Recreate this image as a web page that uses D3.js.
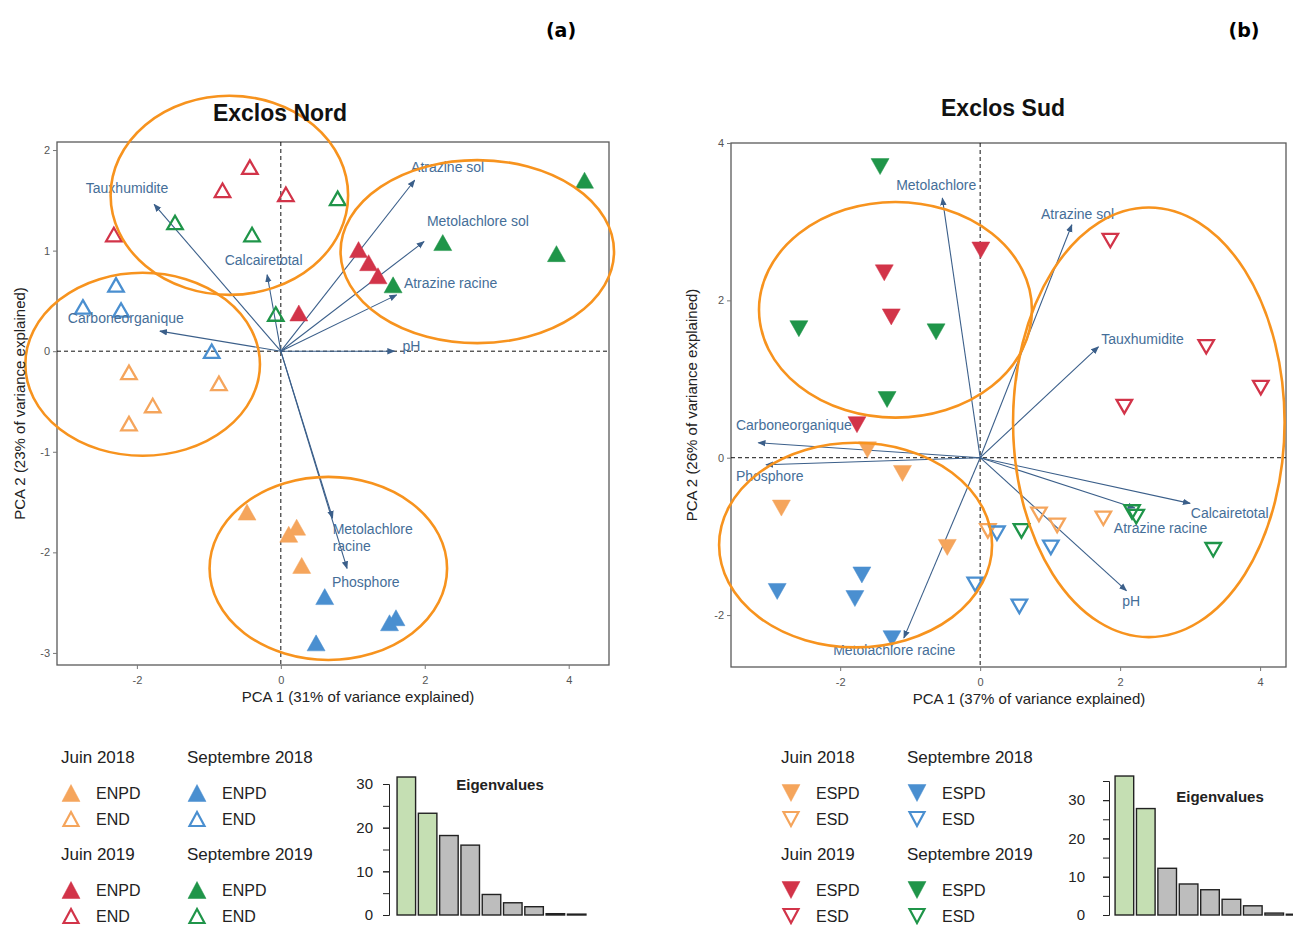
<!DOCTYPE html>
<html><head><meta charset="utf-8">
<script src="https://cdn.jsdelivr.net/npm/d3@7"></script>
<style>
body{margin:0;background:#fff;}
text{font-family:"Liberation Sans",Arial,sans-serif;}
</style></head>
<body>
<script>
// ---------------- DATA ----------------
const sessions = ["Juin 2018","Septembre 2018","Juin 2019","Septembre 2019"];
const nordTypes = ["ENPD","END"];
const sudTypes = ["ESPD","ESD"];

// Exclos Nord: [PC1, PC2]
const nordJ18_ENPD = [[-0.47,-1.60],[0.22,-1.75],[0.11,-1.82],[0.29,-2.13]];
const nordJ18_END  = [[-2.11,-0.21],[-0.86,-0.32],[-1.78,-0.54],[-2.11,-0.72]];
const nordS18_ENPD = [[0.61,-2.44],[1.60,-2.65],[1.51,-2.70],[0.49,-2.90]];
const nordS18_END  = [[-2.29,0.66],[-2.75,0.44],[-2.22,0.41],[-0.96,0.00]];
const nordJ19_ENPD = [[0.25,0.38],[1.08,1.01],[1.22,0.88],[1.35,0.75]];
const nordJ19_END  = [[-0.43,1.83],[-0.81,1.60],[0.07,1.56],[-2.32,1.16]];
const nordS19_ENPD = [[4.22,1.70],[2.25,1.08],[3.83,0.97],[1.56,0.66]];
const nordS19_END  = [[-1.47,1.28],[-0.40,1.16],[-0.07,0.37],[0.79,1.52]];

// Exclos Sud: [PC1, PC2]
const sudJ18_ESPD = [[-1.61,0.10],[-1.11,-0.20],[-2.84,-0.64],[-0.47,-1.14]];
const sudJ18_ESD  = [[0.84,-0.72],[1.10,-0.86],[1.76,-0.77],[0.11,-0.93]];
const sudS18_ESPD = [[-1.69,-1.49],[-2.90,-1.70],[-1.79,-1.79],[-1.26,-2.30]];
const sudS18_ESD  = [[0.24,-0.96],[1.01,-1.14],[-0.07,-1.61],[0.56,-1.89]];
const sudJ19_ESPD = [[-1.37,2.35],[-1.27,1.79],[0.01,2.64],[-1.76,0.42]];
const sudJ19_ESD  = [[1.86,2.76],[3.23,1.41],[4.01,0.89],[2.06,0.65]];
const sudS19_ESPD = [[-1.43,3.70],[-2.59,1.64],[-0.63,1.60],[-1.33,0.74]];
const sudS19_ESD  = [[0.59,-0.93],[2.17,-0.69],[2.23,-0.75],[3.33,-1.17]];

// Variable loadings
const nordVarLabels = ["Tauxhumidite","Calcairetotal","Carboneorganique","Atrazine sol","Metolachlore sol","Atrazine racine","pH","Metolachlore\nracine","Phosphore"];
const nordVarPC1 = [-1.76,-0.19,-1.68,1.86,1.99,1.61,1.58,0.72,0.92];
const nordVarPC2 = [1.46,0.76,0.20,1.70,1.09,0.56,0.00,-1.66,-2.16];
const nordLabelPC1 = [-2.71,-0.78,-2.96,1.81,2.03,1.71,1.69,0.72,0.71];
const nordLabelPC2 = [1.62,0.91,0.33,1.83,1.29,0.68,0.05,-1.77,-2.30];

const sudVarLabels = ["Metolachlore","Atrazine sol","Tauxhumidite","Carboneorganique","Phosphore","Metolachlore racine","Calcairetotal","Atrazine racine","pH"];
const sudVarPC1 = [-0.54,1.31,1.69,-3.17,-3.06,-1.09,3.00,2.21,2.09];
const sudVarPC2 = [3.30,2.96,1.41,0.19,-0.09,-2.29,-0.58,-0.64,-1.69];
const sudLabelPC1 = [-1.20,0.87,1.73,-3.49,-3.49,-2.10,3.01,1.91,2.03];
const sudLabelPC2 = [3.47,3.09,1.51,0.42,-0.23,-2.45,-0.70,-0.90,-1.82];

// Group ellipses (data units)
const nordEllCX = [-0.715,-1.92,2.73,0.66];
const nordEllCY = [1.55,-0.13,0.99,-2.16];
const nordEllRX = [1.65,1.63,1.90,1.65];
const nordEllRY = [0.99,0.91,0.91,0.91];
const sudEllCX = [-1.21,2.41,-1.78];
const sudEllCY = [1.88,0.45,-1.11];
const sudEllRX = [1.95,1.94,1.95];
const sudEllRY = [1.37,2.73,1.30];

// Eigenvalues (% variance)
const nordEigen = [31.6,23.3,18.2,16.0,4.7,2.8,1.9,0.3,0.2];
const sudEigen  = [36.3,27.8,12.2,8.1,6.6,4.1,2.4,0.5,0.2];

// Ticks
const nordXTicks = [-2,0,2,4];
const nordYTicks = [-3,-2,-1,0,1,2];
const sudXTicks = [-2,0,2,4];
const sudYTicks = [-2,0,2,4];
const eigenTicks = [0,10,20,30];

// ---------------- STYLE ----------------
const sessionColors = ["#F5A55C","#4A8FD0","#D23449","#1F9549"];
const arrowColor = "#3B5F8A";
const labelColor = "#456E98";
const ellColor = "#F7931E";
const fmt = d => String(d);

const svg = d3.select("body").append("svg").attr("width",1293).attr("height",925);
const defs = svg.append("defs");
defs.append("marker").attr("id","arr").attr("viewBox","0 0 10 10")
  .attr("refX",9).attr("refY",5).attr("markerWidth",8).attr("markerHeight",8)
  .attr("markerUnits","userSpaceOnUse").attr("orient","auto")
  .append("path").attr("d","M0,1 L10,5 L0,9 Z").attr("fill",arrowColor);

function triPath(w,h,down){
  return down ? `M${-w/2},${-h/2} L${w/2},${-h/2} L0,${h/2} Z`
              : `M0,${-h/2} L${w/2},${h/2} L${-w/2},${h/2} Z`;
}

function drawPCA(cfg){
  const g = svg.append("g");
  const x = d3.scaleLinear().domain(cfg.xDomain).range([cfg.left,cfg.right]);
  const y = d3.scaleLinear().domain(cfg.yDomain).range([cfg.bottom,cfg.top]);
  g.append("rect").attr("x",cfg.left).attr("y",cfg.top)
   .attr("width",cfg.right-cfg.left).attr("height",cfg.bottom-cfg.top)
   .attr("fill","none").attr("stroke","#5a5a5a").attr("stroke-width",1.3);
  const ax = g.append("g").attr("transform",`translate(0,${cfg.bottom})`)
    .call(d3.axisBottom(x).tickValues(cfg.xTicks).tickSize(4).tickSizeOuter(0).tickFormat(fmt));
  const ay = g.append("g").attr("transform",`translate(${cfg.left},0)`)
    .call(d3.axisLeft(y).tickValues(cfg.yTicks).tickSize(4).tickSizeOuter(0).tickFormat(fmt));
  [ax,ay].forEach(a=>{
    a.select(".domain").remove();
    a.selectAll("line").attr("stroke","#777");
    a.selectAll("text").attr("fill","#555").style("font-size","11px");
  });
  ax.selectAll("text").attr("dy","1.1em");
  g.append("line").attr("x1",x(0)).attr("x2",x(0)).attr("y1",cfg.top).attr("y2",cfg.bottom)
   .attr("stroke","#111").attr("stroke-dasharray","4,3").attr("stroke-width",1);
  g.append("line").attr("x1",cfg.left).attr("x2",cfg.right).attr("y1",y(0)).attr("y2",y(0))
   .attr("stroke","#111").attr("stroke-dasharray","4,3").attr("stroke-width",1);
  cfg.varPC1.forEach((v,i)=>{
    g.append("line").attr("x1",x(0)).attr("y1",y(0)).attr("x2",x(v)).attr("y2",y(cfg.varPC2[i]))
     .attr("stroke",arrowColor).attr("stroke-width",1.1).attr("marker-end","url(#arr)");
  });
  cfg.groups.forEach(gr=>{
    gr.pts.forEach(p=>{
      const filled = gr.filled;
      g.append("path").attr("d", filled ? triPath(18,16,cfg.down) : triPath(15.5,13.5,cfg.down))
       .attr("transform",`translate(${x(p[0])},${y(p[1])})`)
       .attr("fill", filled ? sessionColors[gr.s] : "none")
       .attr("stroke", sessionColors[gr.s])
       .attr("stroke-width", filled ? 0.5 : 2.3)
       .attr("stroke-linejoin","miter");
    });
  });
  cfg.varLabels.forEach((t,i)=>{
    const lines = t.split("\n");
    const tx = g.append("text").attr("x",x(cfg.labPC1[i])).attr("y",y(cfg.labPC2[i]))
      .attr("fill",labelColor).style("font-size","14px");
    lines.forEach((l,k)=>{
      tx.append("tspan").attr("x",x(cfg.labPC1[i])).attr("dy", k===0 ? "0.35em" : "1.2em").text(l);
    });
  });
  cfg.ellCX.forEach((c,i)=>{
    g.append("ellipse").attr("cx",x(c)).attr("cy",y(cfg.ellCY[i]))
     .attr("rx",x(cfg.ellRX[i])-x(0)).attr("ry",y(0)-y(cfg.ellRY[i]))
     .attr("fill","none").attr("stroke",ellColor).attr("stroke-width",2.6);
  });
  g.append("text").attr("x",cfg.titleX).attr("y",cfg.titleY).attr("text-anchor","middle")
   .style("font-size","23px").style("font-weight","bold").attr("fill","#111").text(cfg.title);
  g.append("text").attr("x",cfg.xTitleX).attr("y",cfg.bottom+37).attr("text-anchor","middle")
   .style("font-size","15px").attr("fill","#222").text(cfg.xTitle);
  g.append("text").attr("transform",`translate(${cfg.yTitleX},${(cfg.top+cfg.bottom)/2}) rotate(-90)`)
   .attr("text-anchor","middle").style("font-size","15px").attr("fill","#222").text(cfg.yTitle);
}

drawPCA({
  left:57,right:609,top:142,bottom:665,
  xDomain:[-3.11,4.56], yDomain:[-3.12,2.08],
  xTicks:nordXTicks, yTicks:nordYTicks, down:false,
  varPC1:nordVarPC1, varPC2:nordVarPC2, varLabels:nordVarLabels, labPC1:nordLabelPC1, labPC2:nordLabelPC2,
  groups:[
    {s:0,filled:true,pts:nordJ18_ENPD},{s:0,filled:false,pts:nordJ18_END},
    {s:1,filled:true,pts:nordS18_ENPD},{s:1,filled:false,pts:nordS18_END},
    {s:2,filled:true,pts:nordJ19_ENPD},{s:2,filled:false,pts:nordJ19_END},
    {s:3,filled:true,pts:nordS19_ENPD},{s:3,filled:false,pts:nordS19_END}],
  ellCX:nordEllCX, ellCY:nordEllCY, ellRX:nordEllRX, ellRY:nordEllRY,
  title:"Exclos Nord", titleX:280, titleY:121,
  xTitle:"PCA 1 (31% of variance  explained)", xTitleX:358,
  yTitle:"PCA 2 (23% of variance  explained)", yTitleX:25
});

drawPCA({
  left:731,right:1286,top:143,bottom:667,
  xDomain:[-3.56,4.37], yDomain:[-2.66,4.0],
  xTicks:sudXTicks, yTicks:sudYTicks, down:true,
  varPC1:sudVarPC1, varPC2:sudVarPC2, varLabels:sudVarLabels, labPC1:sudLabelPC1, labPC2:sudLabelPC2,
  groups:[
    {s:0,filled:true,pts:sudJ18_ESPD},{s:0,filled:false,pts:sudJ18_ESD},
    {s:1,filled:true,pts:sudS18_ESPD},{s:1,filled:false,pts:sudS18_ESD},
    {s:2,filled:true,pts:sudJ19_ESPD},{s:2,filled:false,pts:sudJ19_ESD},
    {s:3,filled:true,pts:sudS19_ESPD},{s:3,filled:false,pts:sudS19_ESD}],
  ellCX:sudEllCX, ellCY:sudEllCY, ellRX:sudEllRX, ellRY:sudEllRY,
  title:"Exclos Sud", titleX:1003, titleY:116,
  xTitle:"PCA 1 (37% of variance  explained)", xTitleX:1029,
  yTitle:"PCA 2 (26% of variance  explained)", yTitleX:697
});

svg.append("text").attr("x",561).attr("y",37).attr("text-anchor","middle")
  .style("font-family","'DejaVu Sans',Verdana,sans-serif").style("font-weight","bold").style("font-size","19px").text("(a)");
svg.append("text").attr("x",1244).attr("y",37).attr("text-anchor","middle")
  .style("font-family","'DejaVu Sans',Verdana,sans-serif").style("font-weight","bold").style("font-size","19px").text("(b)");

function drawLegend(x0, colDx, types, down){
  const g = svg.append("g");
  const rows = [[0,1],[2,3]];
  rows.forEach((pair,r)=>{
    pair.forEach((s,c)=>{
      const bx = x0 + c*colDx;
      const by = 757 + r*97;
      g.append("text").attr("x",bx).attr("y",by).attr("dy","0.35em")
       .style("font-size","17px").attr("fill","#222").text(sessions[s]);
      types.forEach((t,k)=>{
        const yy = by + 36 + k*26;
        g.append("path").attr("d", k===0 ? triPath(18,17,down) : triPath(15,14,down))
         .attr("transform",`translate(${bx+10},${yy})`)
         .attr("fill", k===0 ? sessionColors[s] : "none")
         .attr("stroke", sessionColors[s]).attr("stroke-width", k===0?0.5:2.2);
        g.append("text").attr("x",bx+35).attr("y",yy).attr("dy","0.35em")
         .style("font-size","16px").attr("fill","#222").text(t);
      });
    });
  });
}
drawLegend(61,126,nordTypes,false);
drawLegend(781,126,sudTypes,true);

function drawEigen(vals, axisX, x0, x1, yMax, yTop, titleX, titleY, minor, lblDx){
  const g = svg.append("g");
  const y = d3.scaleLinear().domain([0,yMax]).range([915,yTop]);
  const xb = d3.scaleBand().domain(vals.map((d,i)=>i)).range([x0,x1]).paddingInner(0.13).paddingOuter(0.05);
  g.selectAll("rect").data(vals).enter().append("rect")
   .attr("x",(d,i)=>xb(i)).attr("width",xb.bandwidth())
   .attr("y",d=>y(d)).attr("height",d=>Math.max(0.8,y(0)-y(d)))
   .attr("fill",(d,i)=> i<2 ? "#C5DFB3" : "#BDBDBD")
   .attr("stroke","#222").attr("stroke-width",1.4);
  const ax = g.append("g").attr("transform",`translate(${axisX},0)`)
   .call(d3.axisLeft(y).tickValues(minor).tickSize(6).tickFormat(""));
  ax.select(".domain").attr("stroke","#222");
  ax.selectAll("line").attr("stroke","#222");
  const ax2 = g.append("g").attr("transform",`translate(${axisX},0)`)
   .call(d3.axisLeft(y).tickValues(eigenTicks).tickSize(6).tickSizeOuter(0).tickFormat(fmt));
  ax2.select(".domain").remove();
  ax2.selectAll("line").attr("stroke","#222");
  ax2.selectAll("text").style("font-size","15px").attr("fill","#222").attr("x",lblDx);
  g.append("text").attr("x",titleX).attr("y",titleY).attr("dy","0.35em").attr("text-anchor","middle")
   .style("font-size","15px").style("font-weight","bold").attr("fill","#222").text("Eigenvalues");
}
drawEigen(nordEigen, 389, 396, 587, 30, 784, 500, 785, [0,5,10,15,20,25,30], -16);
drawEigen(sudEigen, 1109, 1114, 1306, 35, 781, 1220, 797, [0,5,10,15,20,25,30,35], -24);
</script>
</body></html>
